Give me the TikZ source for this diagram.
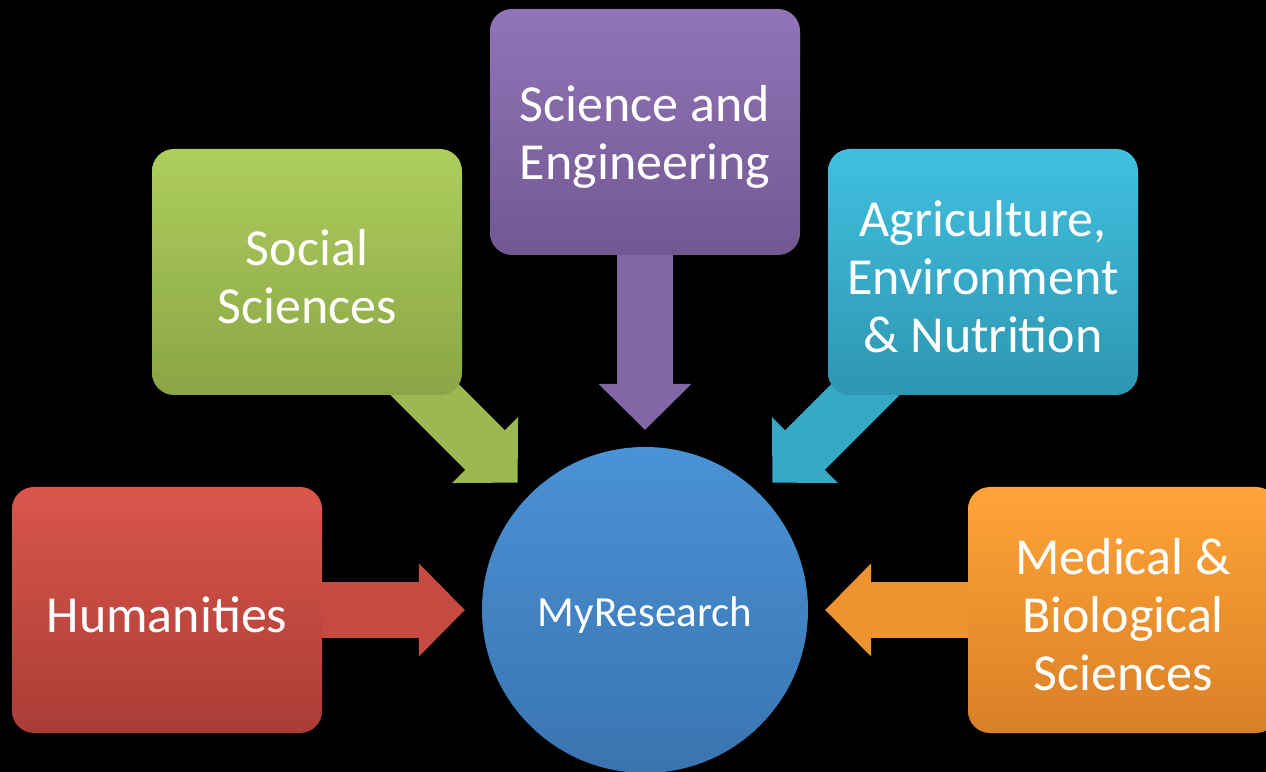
\documentclass[tikz,border=0pt]{standalone}
\usepackage{fontspec}
\setmainfont{Carlito}
\usetikzlibrary{arrows.meta}
\pgfdeclarelayer{background}
\pgfsetlayers{background,main}
\newcommand{\lift}{\rule{0pt}{45pt}}
\definecolor{humtop}{RGB}{218,86,75}
\definecolor{humbot}{RGB}{170,60,54}
\definecolor{soctop}{RGB}{174,206,92}
\definecolor{socbot}{RGB}{137,165,70}
\definecolor{scitop}{RGB}{145,116,184}
\definecolor{scibot}{RGB}{114,88,146}
\definecolor{agrtop}{RGB}{64,192,224}
\definecolor{agrbot}{RGB}{46,150,176}
\definecolor{medtop}{RGB}{255,164,56}
\definecolor{medbot}{RGB}{216,128,38}
\definecolor{restop}{RGB}{74,146,214}
\definecolor{resbot}{RGB}{58,116,176}
\begin{document}
\begin{tikzpicture}[x=1pt,y=1pt,
    field/.style={rounded corners=22pt, minimum width=310pt, minimum height=246pt,
      inner sep=0pt, align=center, font=\fontsize{52}{58}\selectfont},
    feed/.style={line width=56pt, shorten >=17pt,
      -{Triangle[width=93pt,length=46pt,line width=1.5pt]}}]
    \tikzstyle{every node}=[text=white]
    \useasboundingbox (0,0) rectangle (1266,771);
    \node[circle, minimum size=326pt, top color=restop, bottom color=resbot,
      text height=40pt, font=\fontsize{43}{50}\selectfont] (res) at (645,161) {MyResearch};
    \node[field, top color=humtop, bottom color=humbot] (hum) at (167,161) {\lift Humanities};
    \node[field, top color=soctop, bottom color=socbot] (soc) at (307,499) {\lift Social\\Sciences};
    \node[field, top color=scitop, bottom color=scibot] (sci) at (645,639) {\lift Science and\\Engineering};
    \node[field, top color=agrtop, bottom color=agrbot] (agr) at (983,499) {\lift Agriculture,\\Environment\\\& Nutrition};
    \node[field, top color=medtop, bottom color=medbot] (med) at (1123,161) {\lift Medical \&\\Biological\\Sciences};
    \begin{pgfonlayer}{background}
      \fill[black] (-10,-10) rectangle (1290,781);
      \draw[feed, humtop!55!humbot] (hum.center) -- (res);
      \draw[feed, soctop!50!socbot] (soc.center) -- (res);
      \draw[feed, scitop!50!scibot] (sci.center) -- (res);
      \draw[feed, agrtop!45!agrbot] (agr.center) -- (res);
      \draw[feed, medtop!55!medbot] (med.center) -- (res);
    \end{pgfonlayer}
\end{tikzpicture}
\end{document}
